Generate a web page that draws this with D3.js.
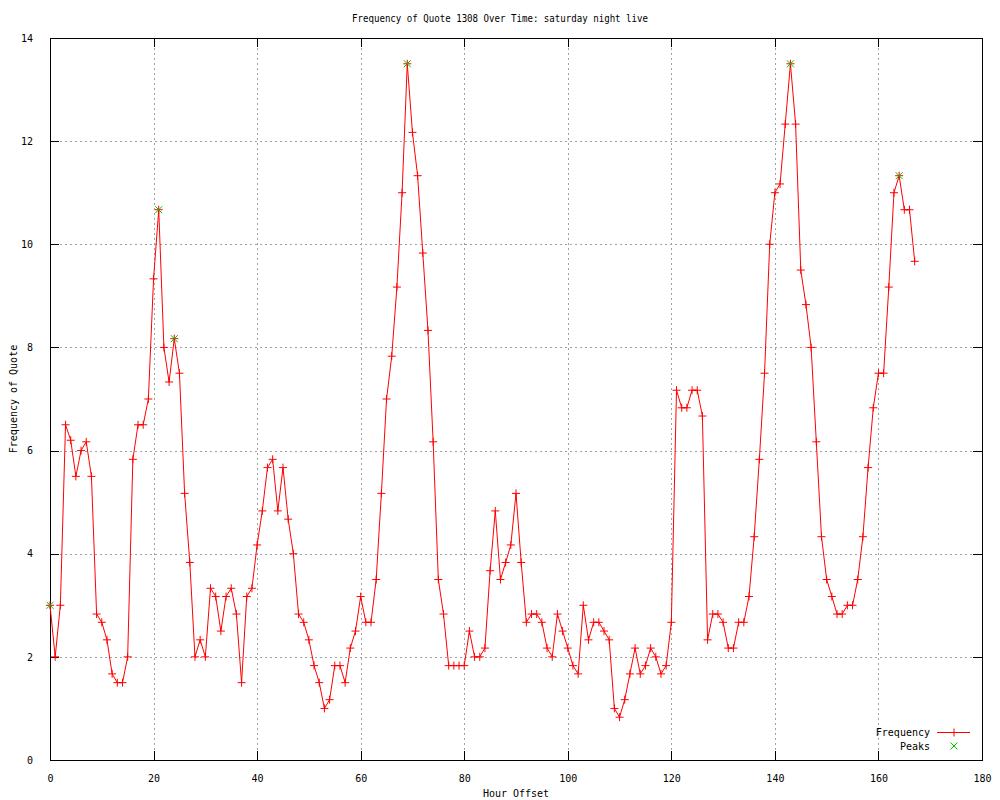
<!DOCTYPE html>
<html>
<head>
<meta charset="utf-8">
<script src="https://cdn.jsdelivr.net/npm/d3@7"></script>
<style>
  body { margin: 0; background: #fff; }
  text { font-family: "DejaVu Sans Mono", "Liberation Mono", monospace; font-size: 10px; fill: #000; }
</style>
</head>
<body>
<svg id="chart" width="1000" height="800"></svg>
<script>
const title = "Frequency of Quote 1308 Over Time: saturday night live";
const xLabel = "Hour Offset";
const yLabel = "Frequency of Quote";
const xTicks = [0, 20, 40, 60, 80, 100, 120, 140, 160, 180];
const yTicks = [0, 2, 4, 6, 8, 10, 12, 14];

const hours = d3.range(0, 168);
const frequency = [
  3.0, 2.0, 3.0, 6.5, 6.2, 5.5, 6.0, 6.17, 5.5, 2.83,
  2.67, 2.33, 1.67, 1.5, 1.5, 2.0, 5.83, 6.5, 6.5, 7.0,
  9.33, 10.67, 8.0, 7.33, 8.17, 7.5, 5.17, 3.83, 2.0, 2.33,
  2.0, 3.33, 3.17, 2.5, 3.17, 3.33, 2.83, 1.5, 3.17, 3.33,
  4.17, 4.83, 5.67, 5.83, 4.83, 5.67, 4.67, 4.0, 2.83, 2.67,
  2.33, 1.83, 1.5, 1.0, 1.17, 1.83, 1.83, 1.5, 2.17, 2.5,
  3.17, 2.67, 2.67, 3.5, 5.17, 7.0, 7.83, 9.17, 11.0, 13.5,
  12.17, 11.33, 9.83, 8.33, 6.17, 3.5, 2.83, 1.83, 1.83, 1.83,
  1.83, 2.5, 2.0, 2.0, 2.17, 3.67, 4.83, 3.5, 3.83, 4.17,
  5.17, 3.83, 2.67, 2.83, 2.83, 2.67, 2.17, 2.0, 2.83, 2.5,
  2.17, 1.83, 1.67, 3.0, 2.33, 2.67, 2.67, 2.5, 2.33, 1.0,
  0.83, 1.17, 1.67, 2.17, 1.67, 1.83, 2.17, 2.0, 1.67, 1.83,
  2.67, 7.17, 6.83, 6.83, 7.17, 7.17, 6.67, 2.33, 2.83, 2.83,
  2.67, 2.17, 2.17, 2.67, 2.67, 3.17, 4.33, 5.83, 7.5, 10.0,
  11.0, 11.17, 12.33, 13.5, 12.33, 9.5, 8.83, 8.0, 6.17, 4.33,
  3.5, 3.17, 2.83, 2.83, 3.0, 3.0, 3.5, 4.33, 5.67, 6.83,
  7.5, 7.5, 9.17, 11.0, 11.33, 10.67, 10.67, 9.67
];
const peakHours = [0, 21, 24, 69, 143, 164];
const peakValues = [3.0, 10.67, 8.17, 13.5, 13.5, 11.33];

const series = hours.map((h, i) => ({ x: h, y: frequency[i] }));
const peaks = peakHours.map((h, i) => ({ x: h, y: peakValues[i] }));

const pLeft = 50, pRight = 982, pTop = 38, pBottom = 760;
const svg = d3.select("#chart");
const x = d3.scaleLinear().domain([0, 180]).range([pLeft, pRight]);
const y = d3.scaleLinear().domain([0, 14]).range([pBottom, pTop]);
const tickLen = 9;

// grid
const grid = svg.append("g").attr("stroke", "#a0a0a0").attr("stroke-width", 1)
  .attr("stroke-dasharray", "2,3").attr("shape-rendering", "crispEdges");
grid.selectAll(".gx").data(xTicks.slice(1, -1)).join("line")
  .attr("x1", d => Math.round(x(d)) + 0.5).attr("x2", d => Math.round(x(d)) + 0.5)
  .attr("y1", pTop).attr("y2", pBottom);
grid.selectAll(".gy").data(yTicks.slice(1, -1)).join("line")
  .attr("y1", d => Math.round(y(d)) + 0.5).attr("y2", d => Math.round(y(d)) + 0.5)
  .attr("x1", pLeft).attr("x2", pRight);

// axes (gnuplot style: inward ticks, mirrored)
const axB = d3.axisBottom(x).tickValues(xTicks).tickSizeInner(-tickLen).tickSizeOuter(0).tickPadding(tickLen + 6);
const axT = d3.axisTop(x).tickValues(xTicks).tickSizeInner(-tickLen).tickSizeOuter(0).tickFormat("");
const axL = d3.axisLeft(y).tickValues(yTicks).tickSizeInner(-tickLen).tickSizeOuter(0).tickPadding(tickLen + 8);
const axR = d3.axisRight(y).tickValues(yTicks).tickSizeInner(-tickLen).tickSizeOuter(0).tickFormat("");

function styleAxis(g) {
  g.select(".domain").remove();
  g.selectAll(".tick line").attr("stroke", "#000").attr("shape-rendering", "crispEdges");
  g.selectAll(".tick text").style("font-family", '"DejaVu Sans Mono", monospace').style("font-size", "10px");
}
svg.append("g").attr("transform", `translate(0,${pBottom})`).call(axB).call(styleAxis);
svg.append("g").attr("transform", `translate(0,${pTop})`).call(axT).call(styleAxis);
svg.append("g").attr("transform", `translate(${pLeft},0)`).call(axL).call(styleAxis);
svg.append("g").attr("transform", `translate(${pRight},0)`).call(axR).call(styleAxis);

// frame
svg.append("rect").attr("x", pLeft + 0.5).attr("y", pTop + 0.5)
  .attr("width", pRight - pLeft).attr("height", pBottom - pTop)
  .attr("fill", "none").attr("stroke", "#000").attr("shape-rendering", "crispEdges");

// line
const line = d3.line().x(d => x(d.x)).y(d => y(d.y));
svg.append("path").datum(series).attr("d", line)
  .attr("fill", "none").attr("stroke", "#ff0000").attr("stroke-width", 1);

// plus markers
const m = 4;
svg.append("g").selectAll("path").data(series).join("path")
  .attr("d", d => `M${x(d.x) - m},${y(d.y)}H${x(d.x) + m}M${x(d.x)},${y(d.y) - m}V${y(d.y) + m}`)
  .attr("stroke", "#ff0000").attr("stroke-width", 1).attr("fill", "none");

// peak markers (x)
const p = 3.5;
svg.append("g").selectAll("path").data(peaks).join("path")
  .attr("d", d => `M${x(d.x) - p},${y(d.y) - p}L${x(d.x) + p},${y(d.y) + p}M${x(d.x) - p},${y(d.y) + p}L${x(d.x) + p},${y(d.y) - p}`)
  .attr("stroke", "#00c000").attr("stroke-width", 1).attr("fill", "none");

// title and labels
svg.append("text").attr("x", 500).attr("y", 22).attr("text-anchor", "middle")
  .attr("textLength", 296).attr("lengthAdjust", "spacingAndGlyphs").text(title);
svg.append("text").attr("x", (pLeft + pRight) / 2).attr("y", 797).attr("text-anchor", "middle").text(xLabel);
svg.append("text").attr("transform", `translate(17,${(pTop + pBottom) / 2}) rotate(-90)`)
  .attr("text-anchor", "middle").text(yLabel);

// legend
const lg = svg.append("g");
lg.append("text").attr("x", 930).attr("y", 736).attr("text-anchor", "end").text("Frequency");
lg.append("text").attr("x", 930).attr("y", 750).attr("text-anchor", "end").text("Peaks");
lg.append("line").attr("x1", 937).attr("x2", 970).attr("y1", 732.5).attr("y2", 732.5)
  .attr("stroke", "#ff0000");
lg.append("path").attr("d", `M${954 - m},732.5H${954 + m}M954,${732.5 - m}V${732.5 + m}`)
  .attr("stroke", "#ff0000");
lg.append("path").attr("d", `M${954 - p},${746 - p}L${954 + p},${746 + p}M${954 - p},${746 + p}L${954 + p},${746 - p}`)
  .attr("stroke", "#00c000");
</script>
</body>
</html>
